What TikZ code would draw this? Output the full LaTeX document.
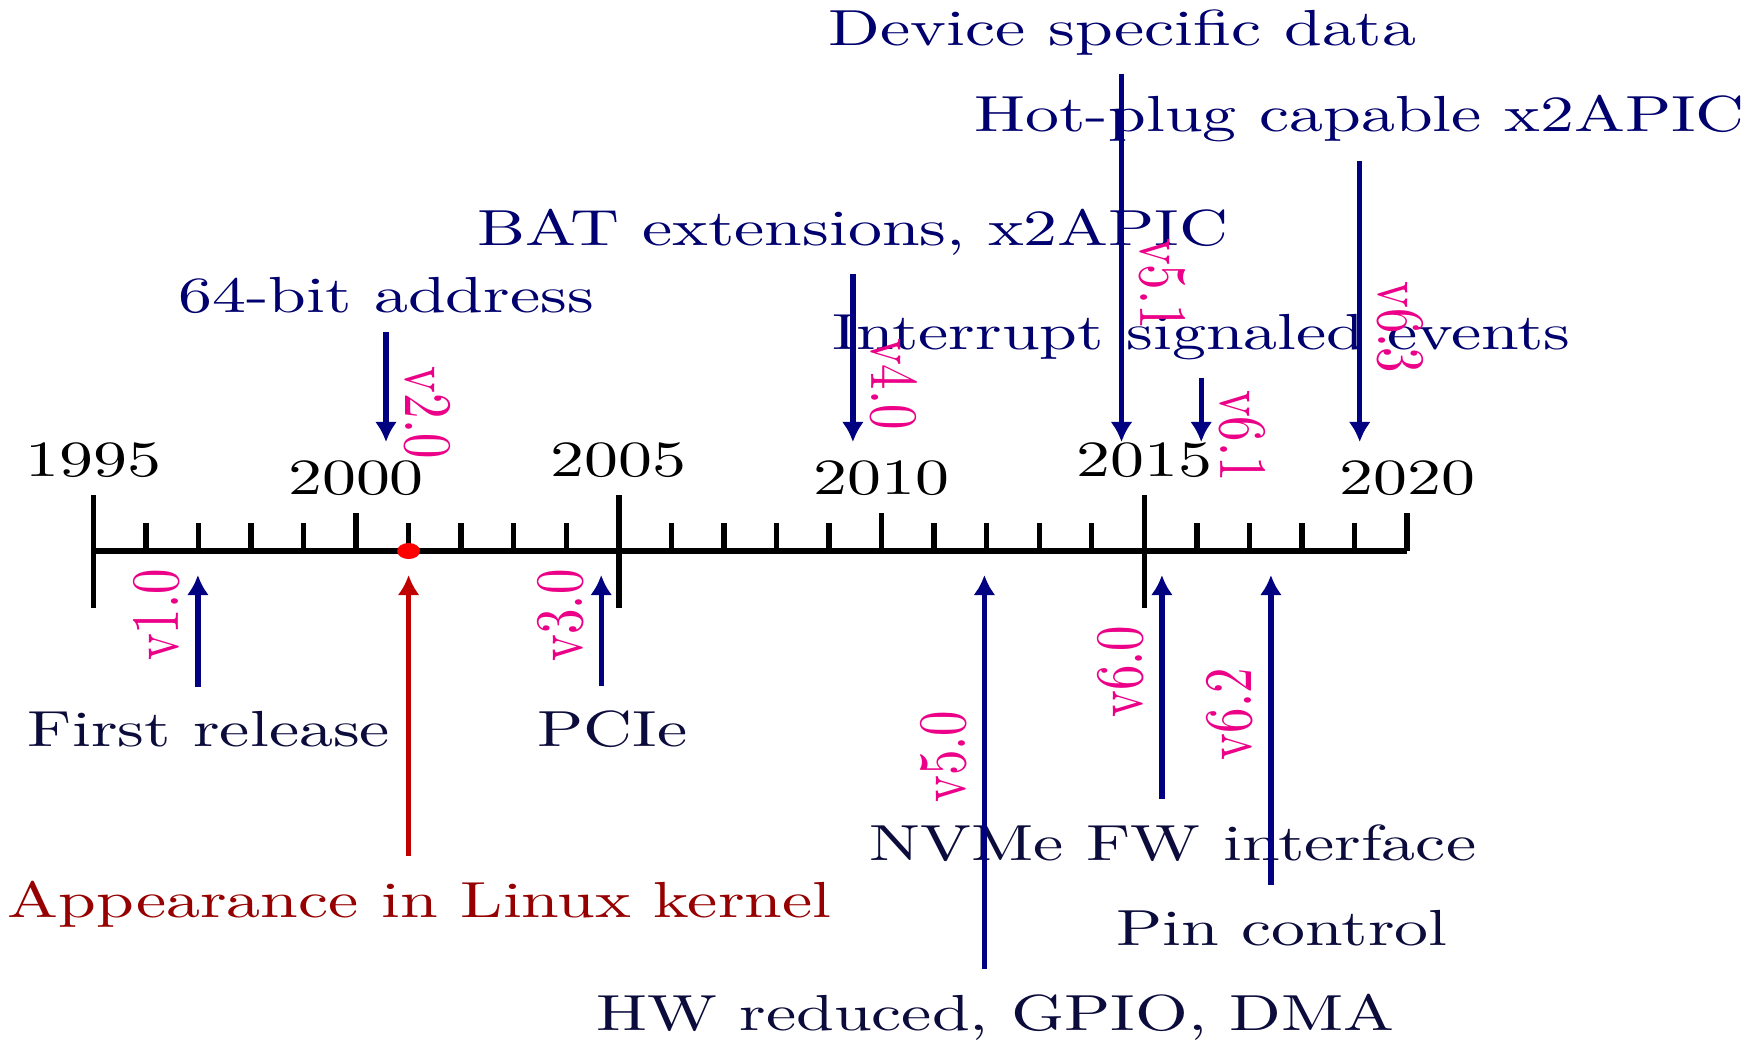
\documentclass[tikz,border=0pt]{standalone}
\usepackage{graphicx}
\usetikzlibrary{arrows.meta}
\definecolor{arrowblue}{RGB}{0,0,128}
\definecolor{topink}{RGB}{0,0,110}
\definecolor{botink}{RGB}{12,12,60}
\definecolor{verpink}{RGB}{235,0,135}
\definecolor{linuxred}{RGB}{192,0,0}
\definecolor{linuxtext}{RGB}{150,0,0}
\definecolor{dotred}{RGB}{255,0,0}
% horizontal text is set flatter, rotated version tags are set shorter
\newcommand{\squash}[1]{\scalebox{1.01}[0.755]{#1}}
\newcommand{\vtag}[1]{\scalebox{0.755}[1.01]{#1}}

\begin{document}
\begin{tikzpicture}[x=0.14881pt, y=-0.14881pt,
  axisline/.style={line width=0.8pt, black},
  arr/.style={line width=0.8pt, arrowblue, -{Latex[length=3pt,width=3.3pt]}},
  redarr/.style={arr, linuxred},
  yearlbl/.style={anchor=base, inner sep=0pt, text=black},
  toptext/.style={anchor=base, inner xsep=0pt, inner ysep=2.6pt, text=topink},
  bottext/.style={anchor=base, inner xsep=0pt, inner ysep=3.5pt, text=botink},
  ver/.style={inner sep=0pt, text=verpink},
]
\useasboundingbox (0,0) rectangle (1762,1039);

% time axis, one unit of 52.55 per year starting at 1995
\draw[axisline] (93.3,551) -- (1407.05,551);
\foreach \i in {1,2,3,4,6,7,8,9,11,12,13,14,16,17,18,19,21,22,23,24}
  \draw[axisline] ({93.3+\i*52.55},523) -- ({93.3+\i*52.55},551);
\foreach \i in {5,15,25}
  \draw[axisline] ({93.3+\i*52.55},513) -- ({93.3+\i*52.55},551);
\foreach \i in {0,10,20}
  \draw[axisline] ({93.3+\i*52.55},495) -- ({93.3+\i*52.55},608);

% year labels
\node[yearlbl] (y1995) at (93.3,476.7) {\squash{1995}};
\node[yearlbl] (y2000) at (356.05,494.7) {\squash{2000}};
\node[yearlbl] (y2005) at (618.8,476.7) {\squash{2005}};
\node[yearlbl] (y2010) at (881.55,494.7) {\squash{2010}};
\node[yearlbl] (y2015) at (1144.3,476.7) {\squash{2015}};
\node[yearlbl] (y2020) at (1407.05,494.7) {\squash{2020}};

% first appearance in Linux
\coordinate (lindot) at (408.6,551);
\fill[dotred] (lindot) ellipse [x radius=1.71pt, y radius=1.19pt];

% arrow tips on the axis
\coordinate (v10) at (197.9,575);
\coordinate (v20) at (386,442);
\coordinate (lin) at (408.6,575);
\coordinate (v30) at (601.2,575);
\coordinate (v40) at (852.9,442);
\coordinate (v50) at (984.4,575);
\coordinate (v51) at (1121.5,442);
\coordinate (v60) at (1161.9,575);
\coordinate (v61) at (1201.2,442);
\coordinate (v62) at (1270.9,575);
\coordinate (v63) at (1359.7,442);

% features above the axis
\node[toptext] (t51) at (1122.5,45) {\squash{Device specific data}};
\node[toptext] (t63) at (1359.7,131.7) {\squash{Hot-plug capable x2APIC}};
\node[toptext] (t40) at (852.9,245) {\squash{BAT extensions, x2APIC}};
\node[toptext] (t20) at (386,312) {\squash{64-bit address}};
\node[toptext] (t61) at (1201.2,349) {\squash{Interrupt signaled events}};

% features below the axis
\node[bottext] (t10) at (208.9,746.7) {\squash{First release}};
\node[bottext] (t30) at (612.2,746.7) {\squash{PCIe}};
\node[bottext, text=linuxtext] (tlin) at (419.6,917) {\squash{Appearance in Linux kernel}};
\node[bottext] (t50) at (995.4,1030) {\squash{HW reduced, GPIO, DMA}};
\node[bottext] (t60) at (1172.9,860) {\squash{NVMe FW interface}};
\node[bottext] (t62) at (1281.9,945) {\squash{Pin control}};

% arrows
\draw[arr] (t20.south) -- (v20);
\draw[arr] (t40.south) -- (v40);
\draw[arr] (t51.south -| v51) -- (v51);
\draw[arr] (t61.south) -- (v61);
\draw[arr] (t63.south) -- (v63);
\draw[arr] (t10.north -| v10) -- (v10);
\draw[arr] (t30.north -| v30) -- (v30);
\draw[arr] (t50.north -| v50) -- (v50);
\draw[arr] (t60.north -| v60) -- (v60);
\draw[arr] (t62.north -| v62) -- (v62);
\draw[redarr] (tlin.north -| lin) -- (lin);

% specification versions
\node[ver, rotate=-90] (l20) at (427,412.8) {\vtag{v2.0}};
\node[ver, rotate=-90] (l40) at (893.9,384) {\vtag{v4.0}};
\node[ver, rotate=-90] (l51) at (1162.5,284) {\vtag{v5.1}};
\node[ver, rotate=-90] (l61) at (1242.2,436) {\vtag{v6.1}};
\node[ver, rotate=-90] (l63) at (1400.7,327.5) {\vtag{v6.3}};
\node[ver, rotate=90] (l10) at (156.9,615.1) {\vtag{v1.0}};
\node[ver, rotate=90] (l30) at (560.2,615.4) {\vtag{v3.0}};
\node[ver, rotate=90] (l50) at (943.4,756.75) {\vtag{v5.0}};
\node[ver, rotate=90] (l60) at (1120.9,671.75) {\vtag{v6.0}};
\node[ver, rotate=90] (l62) at (1229.9,714.25) {\vtag{v6.2}};
\end{tikzpicture}
\end{document}
